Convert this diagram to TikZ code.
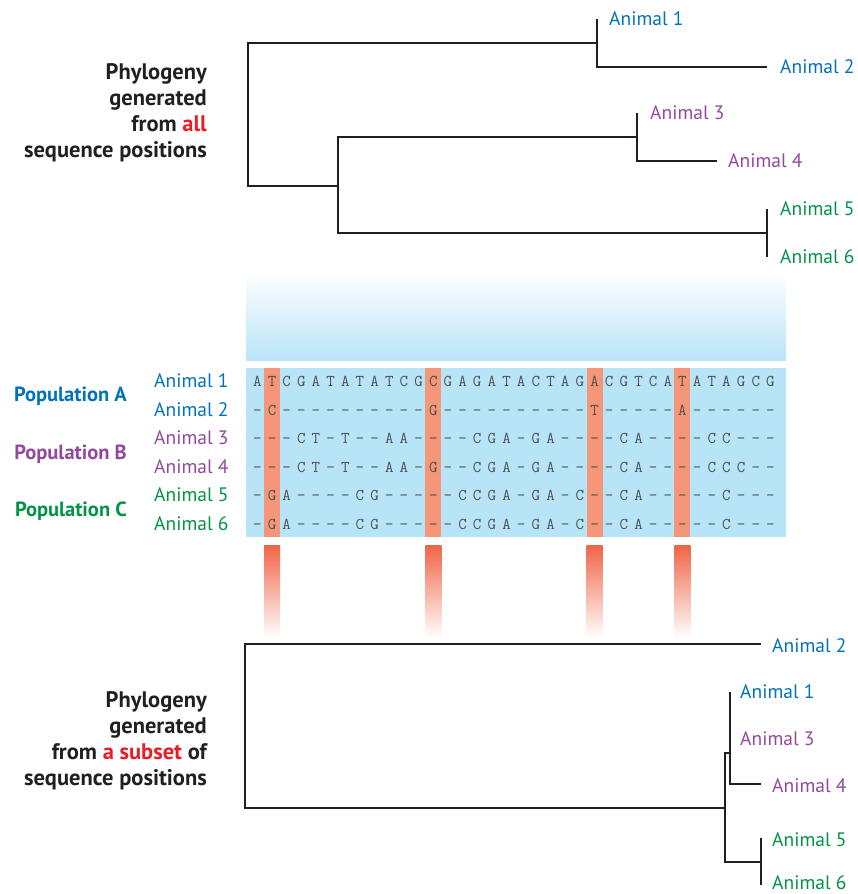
\documentclass[tikz,border=0pt]{standalone}
\usepackage{fontspec}
\setmainfont{PT Sans}
\setmonofont{Latin Modern Mono}
\definecolor{popA}{RGB}{0,114,188}
\definecolor{popB}{RGB}{146,73,156}
\definecolor{popC}{RGB}{0,148,68}
\definecolor{hired}{RGB}{237,28,36}
\definecolor{dark}{RGB}{35,31,32}
\definecolor{alignblue}{RGB}{184,228,248}
\definecolor{hl}{RGB}{245,150,120}
\definecolor{barorange}{RGB}{240,100,70}
\definecolor{seqgray}{RGB}{80,80,80}
\newcount\seqcol
\def\seqrow#1#2#3{\seqcol=0 \def\seqy{#2}\def\seqname{#1}\seqnext#3\relax}
\def\seqnext#1{\ifx#1\relax\else\advance\seqcol by 1 \node[seqch] (\seqname-\the\seqcol) at ({242.68+14.66*\the\seqcol},\seqy) {#1};\expandafter\seqnext\fi}
\begin{document}
\begin{tikzpicture}[x=1pt,y=-1pt,
  lbl/.style={font=\fontsize{19.5}{22}\selectfont, anchor=base west, inner sep=0pt},
  poplbl/.style={font=\bfseries\fontsize{20.5}{23}\selectfont, anchor=base east, inner sep=0pt},
  phy/.style={font=\bfseries\fontsize{22.5}{24}\selectfont, anchor=base east, inner sep=0pt, text=dark},
  seqch/.style={font=\ttfamily\fontsize{16.5}{16.5}\selectfont, anchor=base, inner sep=0pt, text=seqgray},
  branch/.style={draw=dark, line width=1.9pt, line join=miter},
  hlbar/.style={fill=hl, draw=none},
  fadebar/.style={top color=barorange, bottom color=white, draw=none}]
\useasboundingbox (0,0) rectangle (857,894);

% ---------- top tree ----------
\coordinate (troot) at (248,114.5);
\coordinate (tA) at (597,43);
\coordinate (tA1) at (597,19);
\coordinate (tA2) at (597,67);
\coordinate (tA2e) at (767,67);
\coordinate (tB) at (338,186);
\coordinate (tC) at (637,137);
\coordinate (tC1) at (637,113);
\coordinate (tC2) at (637,161);
\coordinate (tC2e) at (717,161);
\coordinate (tD) at (767,233);
\coordinate (tD1) at (767,209);
\coordinate (tD2) at (767,257);
\draw[branch] (tA) -| (troot) |- (tB);
\draw[branch] (tA1) -- (tA2) -- (tA2e);
\draw[branch] (tC) -| (tB) |- (tD);
\draw[branch] (tC1) -- (tC2) -- (tC2e);
\draw[branch] (tD1) -- (tD2);
\node[lbl, text=popA] (tn1) at (609,25) {Animal 1};
\node[lbl, text=popA] (tn2) at (780,73) {Animal 2};
\node[lbl, text=popB] (tn3) at (650,119) {Animal 3};
\node[lbl, text=popB] (tn4) at (728,167) {Animal 4};
\node[lbl, text=popC] (tn5) at (780,215) {Animal 5};
\node[lbl, text=popC] (tn6) at (780,263) {Animal 6};
\node[phy] (tp1) at (207,79) {Phylogeny};
\node[phy] (tp2) at (207,105) {generated};
\node[phy] (tp3) at (207,131.5) {from {\color{hired}all}};
\node[phy] (tp4) at (207,157) {sequence positions};

% ---------- alignment ----------
\shade[top color=white, bottom color=alignblue] (246,272) rectangle (786,360);
\fill[alignblue] (246,368) rectangle (786,537);
\foreach \c/\nm in {2/h1,13/h2,24/h3,30/h4}{
  \fill[hlbar] ({242.68+14.66*\c-8},368) rectangle ({242.68+14.66*\c+8},537);
  \shade[fadebar] ({242.68+14.66*\c-8},545) rectangle ({242.68+14.66*\c+8},638);
}
\seqrow{sa}{386.5}{ATCGATATATCGCGAGATACTAGACGTCATATAGCG}
\seqrow{sb}{415}{-C----------G----------T-----A------}
\seqrow{sc}{443.5}{---CT-T--AA----CGA-GA----CA----CC---}
\seqrow{sd}{472}{---CT-T--AA-G--CGA-GA----CA----CCC--}
\seqrow{se}{500.5}{-GA----CG-----CCGA-GA-C--CA-----C---}
\seqrow{sf}{529}{-GA----CG-----CCGA-GA-C--CA-----C---}
\node[lbl, text=popA] (an1) at (154,387) {Animal 1};
\node[lbl, text=popA] (an2) at (154,416) {Animal 2};
\node[lbl, text=popB] (an3) at (154,444) {Animal 3};
\node[lbl, text=popB] (an4) at (154,473) {Animal 4};
\node[lbl, text=popC] (an5) at (154,501) {Animal 5};
\node[lbl, text=popC] (an6) at (154,530) {Animal 6};
\node[poplbl, text=popA] (pA) at (127,401.5) {Population A};
\node[poplbl, text=popB] (pB) at (127,459) {Population B};
\node[poplbl, text=popC] (pC) at (127,516.5) {Population C};

% ---------- bottom tree ----------
\coordinate (broot) at (245,726);
\coordinate (bn2e) at (761,644);
\coordinate (bA) at (725,808);
\coordinate (bB) at (730,753);
\coordinate (bB1) at (730,692);
\coordinate (bB2) at (730,784);
\coordinate (bB2e) at (761,784);
\coordinate (bC) at (761,862);
\coordinate (bC1) at (761,838);
\coordinate (bC2) at (761,885);
\draw[branch] (bn2e) -| (broot) |- (bA);
\draw[branch] (bB) -| (bA) |- (bC);
\draw[branch] (bB1) -- (bB2) -- (bB2e);
\draw[branch] (bC1) -- (bC2);
\node[lbl, text=popA] (bn2) at (772,652) {Animal 2};
\node[lbl, text=popA] (bn1) at (740,698) {Animal 1};
\node[lbl, text=popB] (bn3) at (740,745) {Animal 3};
\node[lbl, text=popB] (bn4) at (772,792) {Animal 4};
\node[lbl, text=popC] (bn5) at (772,846) {Animal 5};
\node[lbl, text=popC] (bn6) at (772,889.5) {Animal 6};
\node[phy] (bp1) at (207,707) {Phylogeny};
\node[phy] (bp2) at (207,733) {generated};
\node[phy] (bp3) at (207,759) {from {\color{hired}a subset} of};
\node[phy] (bp4) at (207,785) {sequence positions};
\end{tikzpicture}
\end{document}
